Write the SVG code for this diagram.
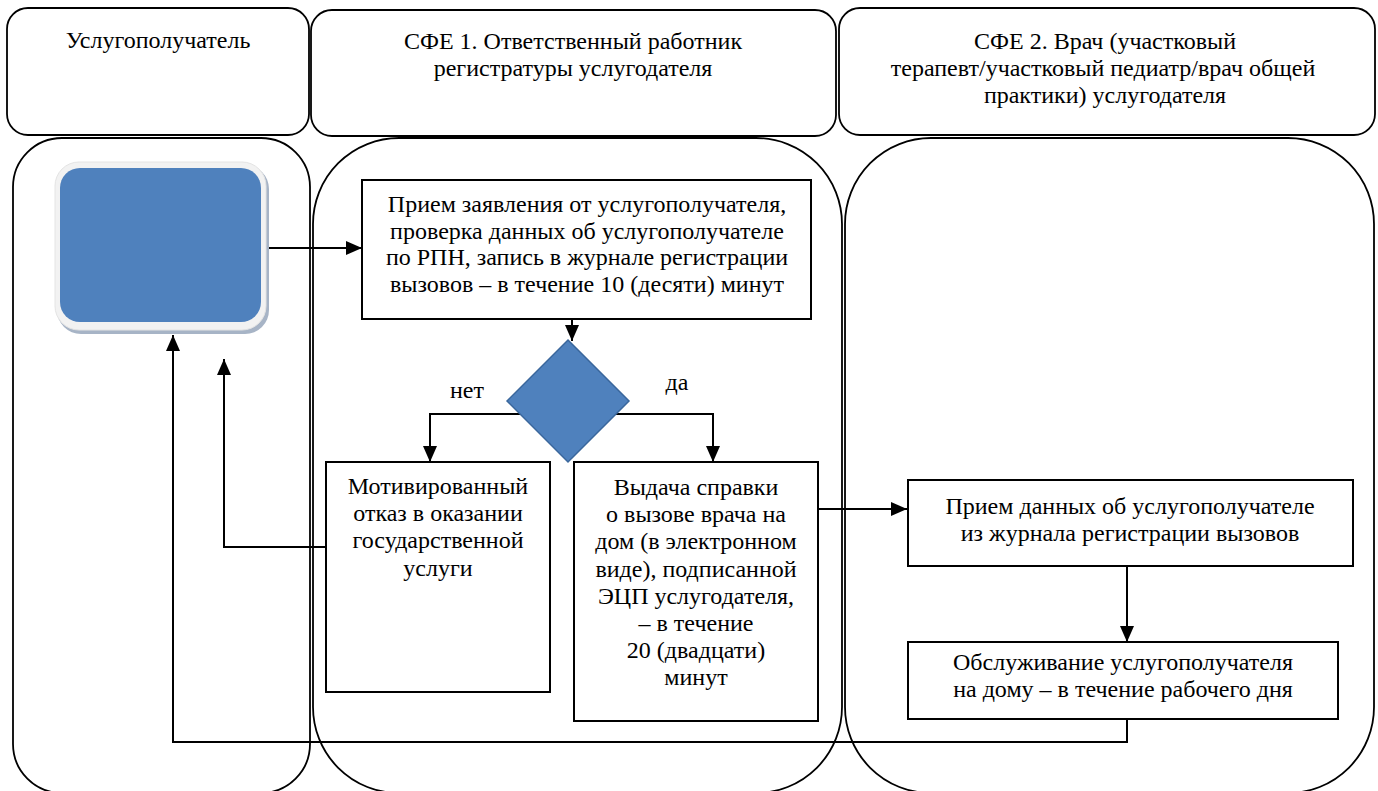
<svg xmlns="http://www.w3.org/2000/svg" width="1378" height="791" viewBox="0 0 1378 791">
<defs>
<style>
.lane{fill:none;stroke:#000;stroke-width:1.8}
.hdr{fill:#fff;stroke:#000;stroke-width:1.8}
.box{fill:#fff;stroke:#000;stroke-width:2}
.conn{fill:none;stroke:#000;stroke-width:2}
.t{font-family:'Liberation Serif','Times New Roman','DejaVu Serif',serif;font-size:24px;fill:#000;text-anchor:middle}
</style>
<marker id="ah" markerUnits="userSpaceOnUse" markerWidth="16" markerHeight="14" refX="16" refY="7" orient="auto">
<path d="M0,0 L16,7 L0,14 z" fill="#000"/>
</marker>
</defs>
<rect width="1378" height="791" fill="#fff"/>
<g id="lanes">
<rect id="lane1" class="lane" x="13" y="138" width="297" height="655" rx="49" ry="49"/>
<rect id="lane2" class="lane" x="313" y="138" width="529" height="655" rx="86" ry="86"/>
<rect id="lane3" class="lane" x="845" y="138" width="529" height="655" rx="86" ry="86"/>
</g>
<g id="header1">
<rect class="hdr" x="7" y="8" width="302" height="127" rx="21" ry="21"/>
<text class="t" x="158" y="48">Услугополучатель</text>
</g>
<g id="header2">
<rect class="hdr" x="311" y="10" width="525" height="126" rx="21" ry="21"/>
<text class="t" x="573" y="49">СФЕ 1. Ответственный работник</text>
<text class="t" x="573" y="76">регистратуры услугодателя</text>
</g>
<g id="header3">
<rect class="hdr" x="839" y="8" width="536" height="127" rx="21" ry="21"/>
<text class="t" x="1105" y="49">СФЕ 2. Врач (участковый</text>
<text class="t" x="1103" y="76">терапевт/участковый педиатр/врач общей</text>
<text class="t" x="1105" y="103">практики) услугодателя</text>
</g>
<g id="connectors">
<line class="conn" x1="261" y1="248" x2="362" y2="248" marker-end="url(#ah)"/>
<line class="conn" x1="572" y1="319" x2="572" y2="341" marker-end="url(#ah)"/>
<polyline class="conn" points="522,414 430,414 430,462" marker-end="url(#ah)"/>
<polyline class="conn" points="615,414 713,414 713,462" marker-end="url(#ah)"/>
<polyline class="conn" points="326,547 224,547 224,359" marker-end="url(#ah)"/>
<line class="conn" x1="818" y1="509" x2="907" y2="509" marker-end="url(#ah)"/>
<line class="conn" x1="1127" y1="566" x2="1127" y2="642" marker-end="url(#ah)"/>
<polyline class="conn" points="1127,719 1127,742 173,742 173,335" marker-end="url(#ah)"/>
</g>
<g id="start">
<rect x="57" y="165" width="212" height="169" rx="24" ry="24" fill="#A7B4C6"/>
<rect x="55" y="162" width="211" height="168" rx="24" ry="24" fill="#F2F2F2" stroke="#E4E4E4" stroke-width="1"/>
<rect x="60" y="168" width="201" height="154" rx="20" ry="20" fill="#4F81BD"/>
</g>
<g id="receive">
<rect class="box" x="362" y="180" width="449" height="139"/>
<text class="t" x="587" y="212">Прием заявления от услугополучателя,</text>
<text class="t" x="587" y="239">проверка данных об услугополучателе</text>
<text class="t" x="587" y="265">по РПН, запись в журнале регистрации</text>
<text class="t" x="587" y="292">вызовов – в течение 10 (десяти) минут</text>
</g>
<g id="decision">
<polygon points="568,340 629,401 568,462 507,401" fill="#4F81BD" stroke="#3A679C" stroke-width="1.5"/>
<text class="t" x="467" y="398">нет</text>
<text class="t" x="677" y="390">да</text>
</g>
<g id="refusal">
<rect class="box" x="326" y="462" width="224" height="230"/>
<text class="t" x="438" y="494">Мотивированный</text>
<text class="t" x="438" y="521">отказ в оказании</text>
<text class="t" x="438" y="548">государственной</text>
<text class="t" x="438" y="576">услуги</text>
</g>
<g id="issue">
<rect class="box" x="574" y="462" width="244" height="259"/>
<text class="t" x="696" y="495">Выдача справки</text>
<text class="t" x="696" y="522">о вызове врача на</text>
<text class="t" x="696" y="549">дом (в электронном</text>
<text class="t" x="696" y="577">виде), подписанной</text>
<text class="t" x="696" y="604">ЭЦП услугодателя,</text>
<text class="t" x="696" y="631">– в течение</text>
<text class="t" x="696" y="658">20 (двадцати)</text>
<text class="t" x="696" y="685">минут</text>
</g>
<g id="doctor-receive">
<rect class="box" x="908" y="480" width="445" height="86"/>
<text class="t" x="1130" y="514">Прием данных об услугополучателе</text>
<text class="t" x="1130" y="541">из журнала регистрации вызовов</text>
</g>
<g id="service">
<rect class="box" x="908" y="642" width="430" height="77"/>
<text class="t" x="1123" y="670">Обслуживание услугополучателя</text>
<text class="t" x="1123" y="697">на дому – в течение рабочего дня</text>
</g>
</svg>
